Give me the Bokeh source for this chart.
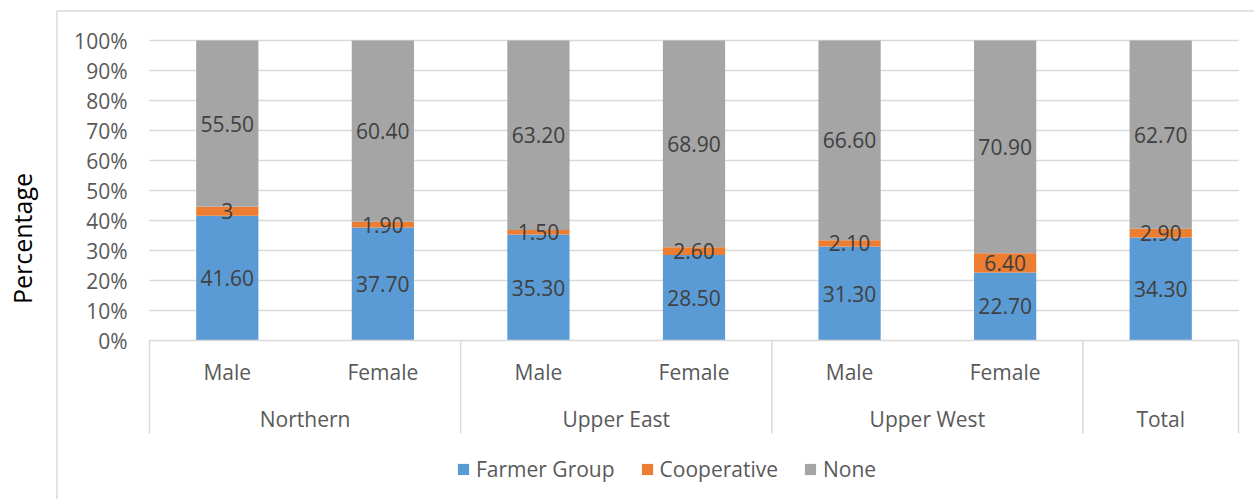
import numpy as np
from bokeh.plotting import figure
from bokeh.models import Range1d, ColumnDataSource, Legend, LegendItem
from bokeh.core.properties import value
from bokeh.embed import file_html
from bokeh.resources import INLINE

# ---- data ---------------------------------------------------------------
regions = ["Northern", "Northern", "Upper East", "Upper East",
           "Upper West", "Upper West", "Total"]
genders = ["Male", "Female", "Male", "Female", "Male", "Female", ""]
farmer_group = [41.60, 37.70, 35.30, 28.50, 31.30, 22.70, 34.30]
cooperative = [3, 1.90, 1.50, 2.60, 2.10, 6.40, 2.90]
none = [55.50, 60.40, 63.20, 68.90, 66.60, 70.90, 62.70]
series_names = ["Farmer Group", "Cooperative", "None"]
y_ticks = [0, 10, 20, 30, 40, 50, 60, 70, 80, 90, 100]

# ---- layout / style -----------------------------------------------------
W, H = 1254, 499
PLOT_LEFT, PLOT_RIGHT = 149, 1238      # px of category axis ends
Y0_PX, Y100_PX = 340, 40               # px of 0% and 100%
N = len(genders)
CAT_PX = (PLOT_RIGHT - PLOT_LEFT) / N
Y_PX = (Y0_PX - Y100_PX) / 100.0

def dx(px):
    return (px - PLOT_LEFT) / CAT_PX

def dy(px):
    return (Y0_PX - px) / Y_PX

COLORS = ["#5B9BD5", "#ED7D31", "#A5A5A5"]
GRID = "#D9D9D9"
AXIS_TXT = "#595959"
LABEL_TXT = "#404040"
FONT = value("Open Sans")
FS = "21px"

p = figure(width=W, height=H, output_backend="svg", toolbar_location=None,
           x_range=Range1d(dx(0), dx(W)), y_range=Range1d(dy(H), dy(0)),
           min_border=0)
p.axis.visible = False
p.grid.visible = False
p.outline_line_color = None
p.background_fill_color = "white"
p.border_fill_color = "white"

# chart area border (left and top edges)
bx, by = dx(56.5), dy(10.5)
p.segment(x0=[bx, bx], y0=[dy(H), by], x1=[bx, dx(W)], y1=[by, by],
          line_color=GRID, line_width=1.5)

# horizontal gridlines
p.segment(x0=0, x1=N, y0=y_ticks[1:], y1=y_ticks[1:],
          line_color=GRID, line_width=1.5)

# normalised 100% stacks
fg = np.array(farmer_group, float)
co = np.array(cooperative, float)
no = np.array(none, float)
tot = fg + co + no
shares = {series_names[0]: fg / tot * 100,
          series_names[1]: co / tot * 100,
          series_names[2]: no / tot * 100}
x = np.arange(N) + 0.5
src = ColumnDataSource(dict(x=x, **shares))
bars = p.vbar_stack(series_names, x="x", width=0.4, source=src,
                    color=COLORS, line_color=None)

# category axis line and group separators
p.segment(x0=0, x1=N, y0=0, y1=0, line_color=GRID, line_width=1.5)
bounds = [0]
for i in range(1, N):
    if regions[i] != regions[i - 1]:
        bounds.append(i)
bounds.append(N)
p.segment(x0=bounds, x1=bounds, y0=0, y1=dy(433),
          line_color=GRID, line_width=1.5)

# data labels centred in each segment
def fmt(v):
    return str(int(v)) if float(v).is_integer() else f"{v:.2f}"

lx, ly, lt = [], [], []
base = np.zeros(N)
for raw, name in zip([farmer_group, cooperative, none], series_names):
    h = shares[name]
    for i in range(N):
        lx.append(x[i])
        ly.append(base[i] + h[i] / 2)
        lt.append(fmt(raw[i]))
    base = base + h
p.text(x=lx, y=ly, text=lt, text_font=FONT, text_font_size=FS,
       text_color=LABEL_TXT, text_align="center", text_baseline="middle")

# value axis tick labels
p.text(x=dx(127), y=y_ticks, text=[f"{t}%" for t in y_ticks],
       text_font=FONT, text_font_size=FS, text_color=AXIS_TXT,
       text_align="right", text_baseline="middle")

# value axis title
p.text(x=[dx(21)], y=[dy(238)], text=["Percentage"], angle=np.pi / 2,
       text_font=FONT, text_font_size="25px", text_color="#000000",
       text_align="center", text_baseline="middle")

# category labels: gender row and region row
p.text(x=x, y=dy(371), text=genders, text_font=FONT, text_font_size=FS,
       text_color=AXIS_TXT, text_align="center", text_baseline="middle")
gx = [(a + b) / 2 for a, b in zip(bounds[:-1], bounds[1:])]
gt = [regions[a] for a in bounds[:-1]]
p.text(x=gx, y=dy(418), text=gt, text_font=FONT, text_font_size=FS,
       text_color=AXIS_TXT, text_align="center", text_baseline="middle")

# legend
legend = Legend(items=[LegendItem(label=n, renderers=[r])
                       for n, r in zip(series_names, bars)],
                orientation="horizontal", location=(456, H - 483),
                glyph_width=14, glyph_height=14, label_standoff=6,
                spacing=25, padding=0, margin=0,
                border_line_color=None, background_fill_alpha=0,
                label_text_font="Open Sans", label_text_font_size=FS,
                label_text_color=AXIS_TXT, label_height=14)
p.add_layout(legend, "center")

open("out.html", "w").write(file_html(p, INLINE))
